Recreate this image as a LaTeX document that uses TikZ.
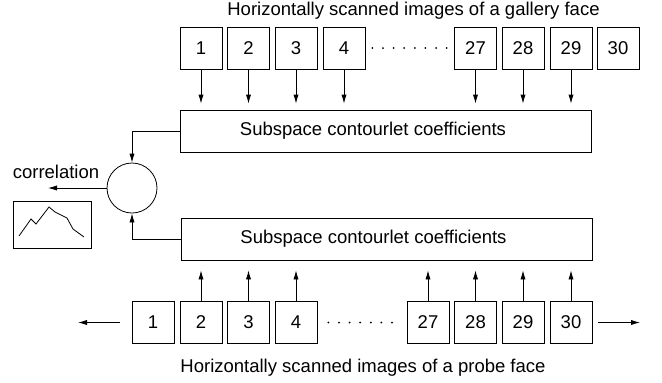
\documentclass[tikz,border=0pt]{standalone}
\usepackage{fontspec}
\setmainfont{Liberation Sans}
\usepackage{tikz}
\usetikzlibrary{arrows.meta, positioning, calc}

\begin{document}
\begin{tikzpicture}[
        x=0.5pt, y=-0.5pt,
        every node/.style={font=\fontsize{9.25}{11}\selectfont},
        scanbox/.style={draw, minimum width=21pt, minimum height=21pt, inner sep=0pt},
        coefbox/.style={draw, minimum width=205.5pt, minimum height=21pt, inner sep=0pt},
        arrow/.style={-{Latex[length=4.5pt, width=2.6pt]}},
        dotrow/.style={line width=1pt, line cap=round, dash pattern=on 0pt off 5.3pt}
    ]
    \useasboundingbox (0,0) rectangle (662,382);

    % Gallery face: scanned images
    \node at (413.5,11) (galtitle) {Horizontally scanned images of a gallery face};
    \node[scanbox] at (201,48) (g1) {1};
    \node[scanbox] at (248.5,48) (g2) {2};
    \node[scanbox] at (296,48) (g3) {3};
    \node[scanbox] at (344,48) (g4) {4};
    \node[scanbox] at (475.5,48) (g27) {27};
    \node[scanbox] at (523,48) (g28) {28};
    \node[scanbox] at (571,48) (g29) {29};
    \node[scanbox] at (618,48) (g30) {30};
    \draw[dotrow, shorten <=3.5pt, shorten >=3.5pt] (g4.east) -- (g27.west);

    % Gallery coefficients
    \node[coefbox, label={[xshift=-6.5pt]center:Subspace contourlet coefficients}] at (386,131) (galcoef) {};
    \draw[arrow, shorten >=3pt] (g1.south) -- (g1.south |- galcoef.north);
    \draw[arrow, shorten >=3pt] (g2.south) -- (g2.south |- galcoef.north);
    \draw[arrow, shorten >=3pt] (g3.south) -- (g3.south |- galcoef.north);
    \draw[arrow, shorten >=3pt] (g4.south) -- (g4.south |- galcoef.north);
    \draw[arrow, shorten >=3pt] (g27.south) -- (g27.south |- galcoef.north);
    \draw[arrow, shorten >=3pt] (g28.south) -- (g28.south |- galcoef.north);
    \draw[arrow, shorten >=3pt] (g29.south) -- (g29.south |- galcoef.north);

    % Probe coefficients
    \node[coefbox, label={[xshift=-6.5pt]center:Subspace contourlet coefficients}] at (386.5,239) (probecoef) {};

    % Probe face: scanned images
    \node[scanbox] at (153,322.5) (p1) {1};
    \node[scanbox] at (201,322.5) (p2) {2};
    \node[scanbox] at (248.5,322.5) (p3) {3};
    \node[scanbox] at (296,322.5) (p4) {4};
    \node[scanbox] at (428,322.5) (p27) {27};
    \node[scanbox] at (475.5,322.5) (p28) {28};
    \node[scanbox] at (523,322.5) (p29) {29};
    \node[scanbox] at (571,322.5) (p30) {30};
    \draw[dotrow, shorten <=5.5pt, shorten >=3.5pt] (p4.east) -- (p27.west);
    \node at (363,368) (probetitle) {Horizontally scanned images of a probe face};

    \draw[arrow, shorten >=5pt] (p2.north) -- (p2.north |- probecoef.south);
    \draw[arrow, shorten >=5pt] (p3.north) -- (p3.north |- probecoef.south);
    \draw[arrow, shorten >=5pt] (p4.north) -- (p4.north |- probecoef.south);
    \draw[arrow, shorten >=5pt] (p27.north) -- (p27.north |- probecoef.south);
    \draw[arrow, shorten >=5pt] (p28.north) -- (p28.north |- probecoef.south);
    \draw[arrow, shorten >=5pt] (p29.north) -- (p29.north |- probecoef.south);
    \draw[arrow, shorten >=5pt] (p30.north) -- (p30.north |- probecoef.south);

    % Sliding the probe left and right
    \coordinate (slideleft) at (78,322.5);
    \coordinate (slideright) at (640,322.5);
    \draw[arrow, shorten <=6pt] (p1.west) -- (slideleft);
    \draw[arrow, shorten <=3pt] (p30.east) -- (slideright);

    % Correlation
    \node[draw, circle, minimum size=25pt, inner sep=0pt] at (132,188) (corr) {};
    \draw[arrow] (galcoef.west) -| (corr.north);
    \draw[arrow] (probecoef.west) -| (corr.south);
    \coordinate (corrout) at (48,188);
    \draw[arrow] (corr.west) -- (corrout);
    \node at (56,172) (corrlabel) {correlation};

    % Correlation curve
    \node[draw, minimum width=39pt, minimum height=23.5pt, inner sep=0pt] at (52,224.5) (plot) {};
    \draw (19,236) -- (31,219) -- (36,224) -- (49,207) -- (55,212) -- (67,218) -- (73,229) -- (84,237);

\end{tikzpicture}
\end{document}
